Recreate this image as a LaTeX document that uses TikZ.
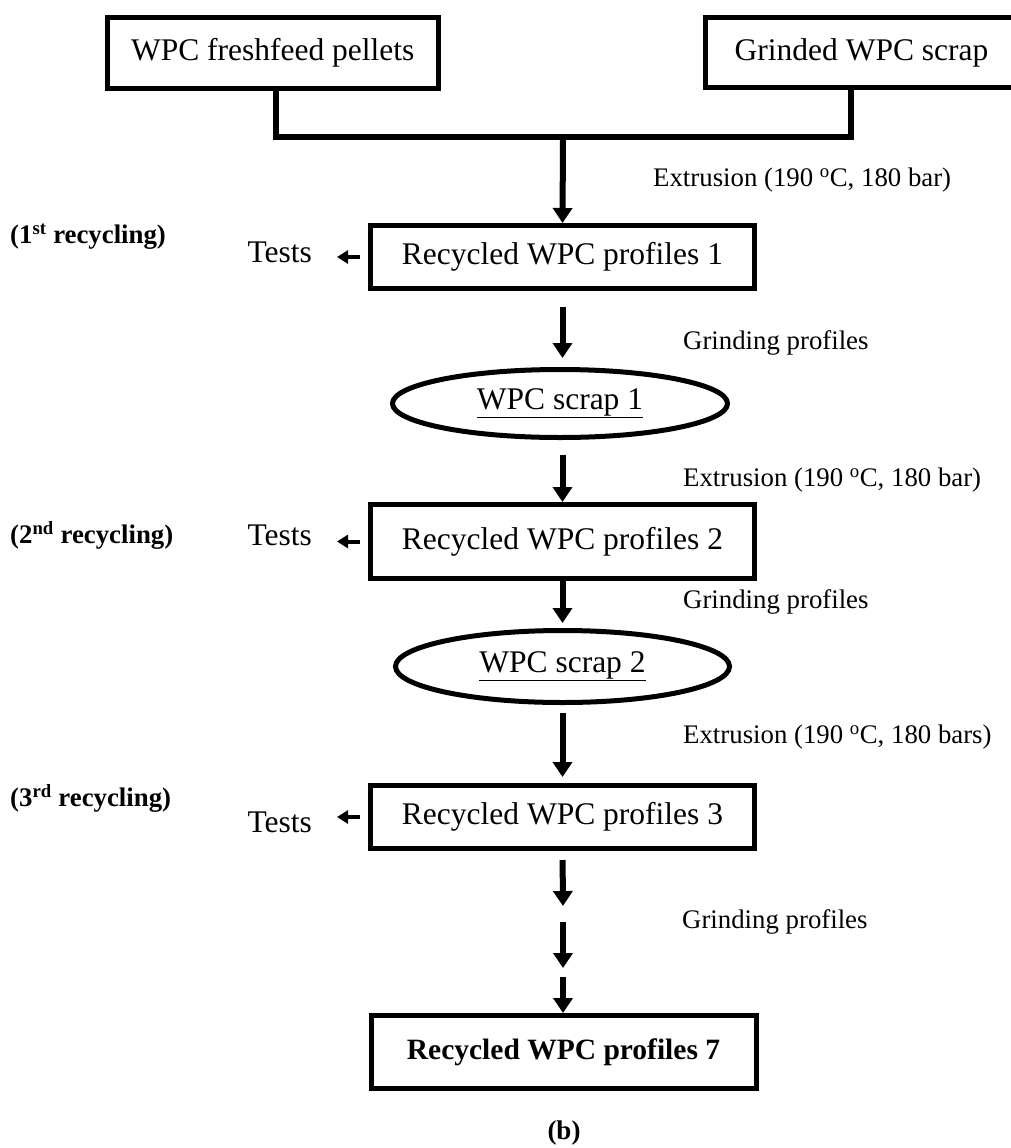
\documentclass[tikz,border=0pt]{standalone}
\usepackage{fontspec}
\setmainfont{Liberation Serif}
\usetikzlibrary{arrows.meta,shapes.geometric}
\begin{document}
\begin{tikzpicture}[x=1pt,y=-1pt,
  frame/.style={draw, line width=5pt, inner sep=0pt, font=\fontsize{31.5}{36}\selectfont},
  rbox/.style={frame, rectangle},
  oval/.style={frame, ellipse},
  lbl/.style={anchor=west, inner sep=0pt, font=\fontsize{26.8}{31}\selectfont},
  recl/.style={anchor=west, inner sep=0pt, font=\bfseries\fontsize{26.8}{31}\selectfont},
  tst/.style={anchor=east, inner sep=0pt, font=\fontsize{31.5}{36}\selectfont},
  flow/.style={line width=6pt, -{Triangle[width=19pt,length=15pt]}},
  side/.style={line width=4pt, -{Triangle[width=13pt,length=11pt]}},
  conn/.style={line width=5.5pt}
]
\useasboundingbox (0,0) rectangle (1011,1148);
\fill[white] (0,0) rectangle (1011,1148);

% top inputs
\node[rbox, minimum width=331.5pt, minimum height=71pt] (L) at (272.75,53) {WPC freshfeed pellets};
\node[rbox, minimum width=312pt, minimum height=70pt] (R) at (861.5,52.5) {Grinded WPC scrap};

% main chain
\node[rbox, minimum width=384pt, minimum height=63pt] (B1) at (562.5,257) {Recycled WPC profiles 1};
\node[oval, minimum width=335pt, minimum height=68pt] (E1) at (560,403.5) {\underline{WPC scrap 1}};
\node[rbox, minimum width=384pt, minimum height=74pt] (B2) at (562.5,541.5) {Recycled WPC profiles 2};
\node[oval, minimum width=334pt, minimum height=72pt] (E2) at (562.5,666.5) {\underline{WPC scrap 2}};
\node[rbox, minimum width=384pt, minimum height=63pt] (B3) at (562.5,817) {Recycled WPC profiles 3};
\node[rbox, minimum width=385pt, minimum height=73pt, font=\bfseries\fontsize{29.5}{34}\selectfont] (B7) at (563.5,1052) {Recycled WPC profiles 7};

% tests
\node[tst] (T1) at (312,252) {Tests};
\node[tst] (T2) at (312,535) {Tests};
\node[tst] (T3) at (312,822) {Tests};

% recycling labels
\node[recl] (R1) at (10,237) {(1\textsuperscript{st} recycling)};
\node[recl] (R2) at (10,535) {(2\textsuperscript{nd} recycling)};
\node[recl] (R3) at (10,798) {(3\textsuperscript{rd} recycling)};

% process labels
\node[lbl] (X1) at (653,180) {Extrusion (190 \textsuperscript{o}C, 180 bar)};
\node[lbl] (G1) at (683,343) {Grinding profiles};
\node[lbl] (X2) at (683,480) {Extrusion (190 \textsuperscript{o}C, 180 bar)};
\node[lbl] (G2) at (683,602) {Grinding profiles};
\node[lbl] (X3) at (683,737) {Extrusion (190 \textsuperscript{o}C, 180 bars)};
\node[lbl] (G3) at (682,922) {Grinding profiles};

\node[inner sep=0pt, font=\bfseries\fontsize{27}{32}\selectfont] (cap) at (564,1133) {(b)};

% junction
\coordinate (lj) at (276,137);
\coordinate (rj) at (851,137);
\coordinate (j) at (563,137);
\draw[conn] (lj |- L.south) -- (lj) -- (rj) -- (rj |- R.south);

% vertical flow
\draw[flow] (j) -- (B1.north);
\draw[flow, shorten <=16pt, shorten >=9pt] (B1.south) -- (B1.south |- E1.north);
\draw[flow, shorten <=15pt] (E1.south -| B2.north) -- (B2.north);
\draw[flow, shorten >=5pt] (B2.south) -- (B2.south |- E2.north);
\draw[flow, shorten <=8pt, shorten >=6pt] (E2.south -| B3.north) -- (B3.north);

\coordinate (e1) at (563,906);
\coordinate (d1) at (563,922);
\coordinate (e2) at (563,968);
\coordinate (d2) at (563,977);
\draw[flow, shorten <=9pt] (B3.south) -- (e1);
\draw[flow] (d1) -- (e2);
\draw[flow] (d2) -- (d2 |- B7.north);

% tests arrows
\draw[side, shorten <=8pt, shorten >=25pt] (B1.west) -- (B1.west -| T1.east);
\draw[side, shorten <=8pt, shorten >=25pt] (B2.west) -- (B2.west -| T2.east);
\draw[side, shorten <=8pt, shorten >=25pt] (B3.west) -- (B3.west -| T3.east);
\end{tikzpicture}
\end{document}
